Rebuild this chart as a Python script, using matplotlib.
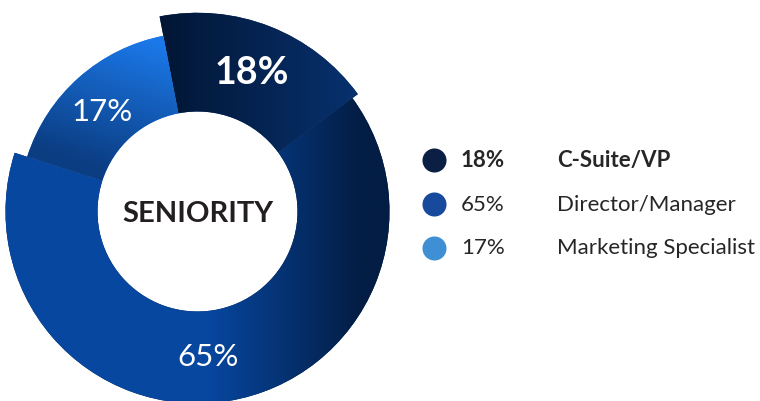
import matplotlib

matplotlib.use("Agg")
import matplotlib.pyplot as plt
import numpy as np
from matplotlib.colors import LinearSegmentedColormap

# --- data --------------------------------------------------------------------
labels = ["C-Suite/VP", "Director/Manager", "Marketing Specialist"]
shares = [18, 65, 17]
pct_labels = ["18%", "65%", "17%"]
legend_colors = ["#0b1f45", "#174a9c", "#3f8fd4"]

# --- style -------------------------------------------------------------------
# gradient (start, end) colours per slice and the direction the gradient runs
grad_colors = [("#021634", "#07306c"), ("#0747a0", "#031d44"), ("#0b3d82", "#1b78e8")]
grad_dirs = [(1.0, 0.0), (1.0, 0.0), (0.3, 0.9)]
grad_span = [(-0.2, 0.8), (0.05, 0.85), (0.05, 0.72)]
ring_radius = [1.035, 1.0, 0.932]
label_nudge = [0, -5, 2]  # degrees, pct label angle tweak
label_r = [0.78, 0.755, 0.72]
label_size = [27, 22.5, 22.5]
label_weight = ["bold", "normal", "normal"]

FONT = ["Lato", "DejaVu Sans"]
W, H, DPI = 760, 402, 100
SCALE = 192  # pixels per data unit (outer radius of the big slice)
CX, CY = 197.5, 212.5  # pie centre in pixels from top-left


def px(x, y):
    """pixel (from top-left) -> data coords"""
    return (x - CX) / SCALE, (CY - y) / SCALE


fig = plt.figure(figsize=(W / DPI, H / DPI), dpi=DPI)
ax = fig.add_axes([0, 0, 1, 1])

inner = 100 / SCALE
wedges, _ = ax.pie(
    shares,
    startangle=101,
    counterclock=False,
    radius=1.0,
    wedgeprops=dict(width=1 - inner, linewidth=0),
)

grid = np.linspace(-1.1, 1.1, 500)
X, Y = np.meshgrid(grid, grid)
for i, w in enumerate(wedges):
    w.set_radius(ring_radius[i])
    w.set_width(ring_radius[i] - inner)
    c0, c1 = grad_colors[i]
    w.set_facecolor(c1)
    cmap = LinearSegmentedColormap.from_list(f"g{i}", [c0, c1])
    dx, dy = grad_dirs[i]
    t = X * dx + Y * dy
    ax.imshow(
        t,
        extent=(-1.1, 1.1, -1.1, 1.1),
        origin="lower",
        cmap=cmap,
        vmin=grad_span[i][0],
        vmax=grad_span[i][1],
        clip_path=w,
        interpolation="bilinear",
        zorder=w.get_zorder() + 0.1,
    )

    # percentage label inside the slice
    mid = np.deg2rad((w.theta1 + w.theta2) / 2 + label_nudge[i])
    ax.text(
        label_r[i] * np.cos(mid),
        label_r[i] * np.sin(mid),
        pct_labels[i],
        ha="center",
        va="center",
        color="white",
        fontsize=label_size[i],
        fontweight=label_weight[i],
        family=FONT,
        zorder=5,
    )

ax.text(0, -0.01, "SENIORITY", ha="center", va="center", color="#231f20",
        fontsize=21, fontweight="bold", family=FONT, zorder=5)

# --- legend -----------------------------------------------------------------
row_y = [160.5, 205, 248.5]
for i, lab in enumerate(labels):
    weight = "bold" if i == 0 else "normal"
    x0, y0 = px(434, row_y[i])
    ax.scatter([x0], [y0], s=300, color=legend_colors[i], linewidths=0, zorder=5)
    xp, _ = px(461, row_y[i])
    ax.text(xp, y0, pct_labels[i], ha="left", va="center", color="#262626",
            fontsize=16, fontweight=weight, family=FONT)
    xl, _ = px(557, row_y[i])
    ax.text(xl, y0, lab, ha="left", va="center", color="#262626",
            fontsize=16, fontweight=weight, family=FONT)

x_lo, y_hi = px(0, 0)
x_hi, y_lo = px(W, H)
ax.set_xlim(x_lo, x_hi)
ax.set_ylim(y_lo, y_hi)
ax.set_aspect("auto")
ax.axis("off")

fig.savefig("out.png", dpi=DPI, facecolor="white")
